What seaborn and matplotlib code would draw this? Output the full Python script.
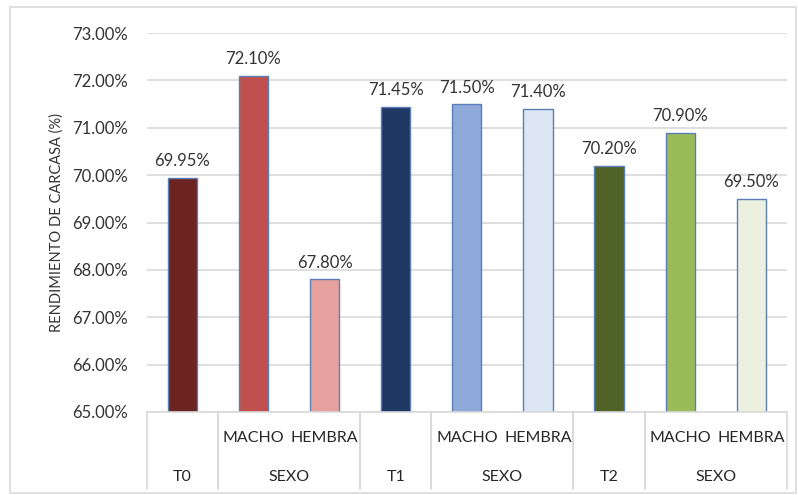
import seaborn as sns
import matplotlib.pyplot as plt
import matplotlib.transforms as mtransforms
import pandas as pd

# datos
barras = ['T0', 'T0 MACHO', 'T0 HEMBRA', 'T1', 'T1 MACHO', 'T1 HEMBRA', 'T2', 'T2 MACHO', 'T2 HEMBRA']
rendimiento = [69.95, 72.10, 67.80, 71.45, 71.50, 71.40, 70.20, 70.90, 69.50]
nivel_sup = ['', 'MACHO', 'HEMBRA', '', 'MACHO', 'HEMBRA', '', 'MACHO', 'HEMBRA']
grupos = ['T0', 'SEXO', 'T1', 'SEXO', 'T2', 'SEXO']
grupo_inicio = [0, 1, 3, 4, 6, 7]
grupo_fin = [0, 2, 3, 5, 6, 8]
colores = ['#6B2420', '#C0504D', '#E6A09E', '#1F3864', '#8EAADB', '#DCE6F2',
           '#4F6228', '#9BBB59', '#EBF1DE']

df = pd.DataFrame({'barra': barras, 'valor': rendimiento})

sns.set_style('white')
plt.rcParams['font.family'] = ['Lato', 'DejaVu Sans']

fig = plt.figure(figsize=(7.98, 4.95), dpi=100)
ax = fig.add_axes([0.184, 0.168, 0.802, 0.765])

sns.barplot(data=df, x='barra', y='valor', hue='barra', palette=colores, saturation=1,
            width=0.41, legend=False, ax=ax, edgecolor='#5B7FB5', linewidth=1.0)

ax.set_ylim(65, 73)
ax.set_xlim(-0.5, len(barras) - 0.5)
ax.set_yticks(range(65, 74))
ax.set_yticklabels([f'{v:.2f}%' for v in range(65, 74)], fontsize=12, color='#333333')
ax.yaxis.grid(True, color='#D9D9D9', linewidth=1.2)
ax.set_axisbelow(True)
for s in ax.spines.values():
    s.set_visible(False)
ax.tick_params(axis='y', length=0, pad=14)
ax.set_xticks([])
ax.set_xlabel('')
ax.set_ylabel('RENDIMIENTO DE CARCASA (%)', fontsize=10.5, color='#333333', labelpad=6)

# etiquetas de valor
for i, v in enumerate(rendimiento):
    ax.text(i, v + 0.18, f'{v:.2f}%', ha='center', va='bottom', fontsize=12, color='#333333')

# eje de categorias en dos niveles
trans = mtransforms.blended_transform_factory(ax.transData, ax.transAxes)
ax.plot([-0.5, 8.5], [0, 0], color='#D9D9D9', lw=1.2, transform=trans, clip_on=False)
for i, lab in enumerate(nivel_sup):
    if lab:
        ax.text(i, -0.07, lab, ha='center', va='center', fontsize=11.5, color='#262626',
                transform=trans)
for g, a, b in zip(grupos, grupo_inicio, grupo_fin):
    ax.text((a + b) / 2, -0.172, g, ha='center', va='center', fontsize=11.5, color='#262626',
            transform=trans)
    for x in (a - 0.5, b + 0.5):
        ax.plot([x, x], [0, -0.205], color='#D9D9D9', lw=1.2, transform=trans, clip_on=False)

# borde del grafico
fig.patches.append(plt.Rectangle((0.013, 0.005), 0.985, 0.98, transform=fig.transFigure,
                                 fill=False, edgecolor='#D9D9D9', lw=1.2))

fig.savefig('out.png', dpi=100)
